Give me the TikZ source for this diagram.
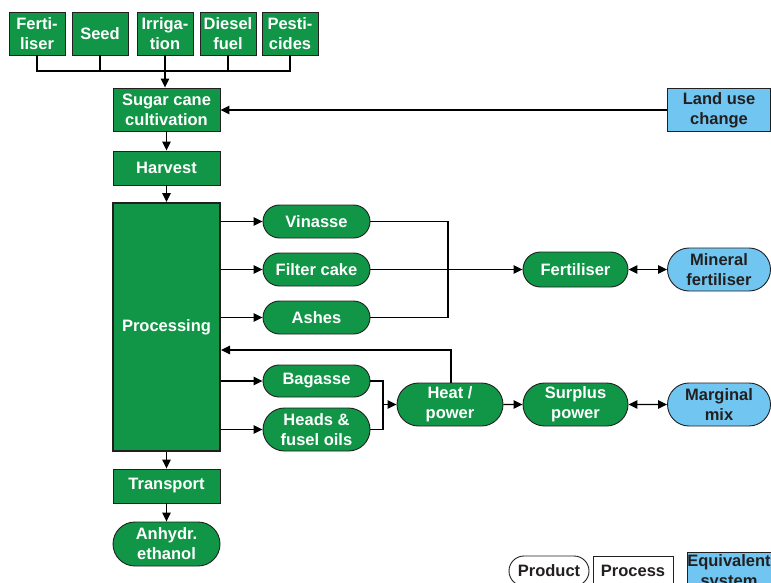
\documentclass[tikz,border=0pt]{standalone}
\usepackage{fontspec}
\setmainfont{Liberation Sans}
\usetikzlibrary{arrows.meta,shapes.misc}
\definecolor{cgreen}{RGB}{16,150,70}
\definecolor{cblue}{RGB}{112,198,240}
\definecolor{cdark}{RGB}{35,31,32}
\tikzset{
  every node/.style={font=\fontsize{16.5}{20}\selectfont\bfseries, align=center, inner sep=0pt},
  procbox/.style={rectangle, draw=cdark, line width=0.9pt, fill=cgreen, text=white, minimum width=107pt},
  prodbox/.style={rounded rectangle, draw=cdark, line width=0.9pt, fill=cgreen, text=white, minimum width=107pt},
  equivbox/.style={draw=cdark, line width=0.9pt, fill=cblue, text=cdark, minimum width=103pt, minimum height=43pt},
  flow/.style={line width=1.2pt, draw=black},
  arr/.style={flow, -{Triangle[length=9pt,width=8.5pt]}},
  darr/.style={flow, {Triangle[length=9pt,width=8.5pt]}-{Triangle[length=9pt,width=8.5pt]}}
}
\begin{document}
\begin{tikzpicture}[x=1pt,y=-1pt]
\clip (0,0) rectangle (771,583);
\fill[white] (0,0) rectangle (771,583);
% inputs
\node[procbox, minimum width=56pt, minimum height=43pt] (fert) at (37,33.5) {Ferti-\\liser};
\node[procbox, minimum width=56pt, minimum height=43pt] (seed) at (100,33.5) {Seed};
\node[procbox, minimum width=56pt, minimum height=43pt] (irrig) at (165,33.5) {Irriga-\\tion};
\node[procbox, minimum width=56pt, minimum height=43pt] (diesel) at (228,33.5) {Diesel\\fuel};
\node[procbox, minimum width=56pt, minimum height=43pt] (pest) at (290,33.5) {Pesti-\\cides};
% main chain
\node[procbox, minimum height=43pt] (cult) at (166.5,109.5) {Sugar cane\\cultivation};
\node[equivbox] (luc) at (719,110) {Land use\\change};
\node[procbox, minimum height=34pt] (harv) at (166.5,168) {Harvest};
\node[procbox, minimum height=248pt, line width=2pt] (procg) at (166.5,327) {Processing};
\node[procbox, minimum height=34pt] (trans) at (166.5,486) {Transport};
\node[prodbox, minimum height=44pt] (eth) at (166.5,544) {Anhydr.\\ethanol};
% by-products
\node[prodbox, minimum height=33pt] (vin) at (316.5,221.5) {Vinasse};
\node[prodbox, minimum height=33pt] (filt) at (316.5,269.5) {Filter cake};
\node[prodbox, minimum height=33pt] (ash) at (316.5,317.5) {Ashes};
\node[prodbox, minimum width=105pt, minimum height=35pt] (fertp) at (575.5,269.5) {Fertiliser};
\node[equivbox, rounded rectangle] (minf) at (719,269.5) {Mineral\\fertiliser};
\node[prodbox, minimum height=32pt] (bag) at (316.5,381) {Bagasse};
\node[prodbox, minimum height=43pt] (heads) at (316.5,429.5) {Heads \&\\fusel oils};
\node[prodbox, minimum width=106pt, minimum height=43pt] (heat) at (450,404.5) {Heat /\\power};
\node[prodbox, minimum width=105pt, minimum height=43pt] (surp) at (575.5,404.5) {Surplus\\power};
\node[equivbox, rounded rectangle] (marg) at (719,404.5) {Marginal\\mix};
% legend
\node[prodbox, fill=white, text=cdark, minimum width=80pt, minimum height=30pt] (lprod) at (549,571) {Product};
\node[procbox, fill=white, text=cdark, minimum width=80pt, minimum height=30pt] (lproc) at (633,571) {Process};
\node[equivbox, minimum width=84pt, minimum height=40pt] (leq) at (729,572) {Equivalent\\system};
% connectors
\coordinate (jn) at (165,71);
\draw[flow] (fert.south) |- (jn);
\draw[flow] (pest.south) |- (jn);
\draw[flow] (seed.south) -- (seed.south |- jn);
\draw[flow] (diesel.south) -- (diesel.south |- jn);
\draw[arr] (irrig.south) -- (irrig.south |- cult.north);
\draw[arr] (luc.west) -- (cult.east |- luc.west);
\draw[arr] (cult) -- (harv);
\draw[arr] (harv) -- (procg);
\draw[arr] (procg) -- (trans);
\draw[arr] (trans) -- (eth);
\draw[arr] (procg.east |- vin) -- (vin.west);
\draw[arr] (procg.east |- filt) -- (filt.west);
\draw[arr] (procg.east |- ash) -- (ash.west);
\coordinate (mf) at (448,269.5);
\draw[flow] (vin.east) -| (mf);
\draw[flow] (ash.east) -| (mf);
\draw[arr] (filt.east) -- (fertp.west);
\draw[darr] (fertp.east) -- (minf.west);
\draw[arr] (procg.east |- bag) -- (bag.west);
\draw[arr] (procg.east |- heads) -- (heads.west);
\coordinate (mh) at (383,404.5);
\draw[flow] (bag.east) -| (mh);
\draw[flow] (heads.east) -| (mh);
\draw[arr] (mh) -- (heat.west);
\coordinate (rt) at (451,350);
\draw[arr] (heat.north -| rt) -- (rt) -- (procg.east |- rt);
\draw[arr] (heat) -- (surp);
\draw[darr] (surp) -- (marg);
\end{tikzpicture}
\end{document}
